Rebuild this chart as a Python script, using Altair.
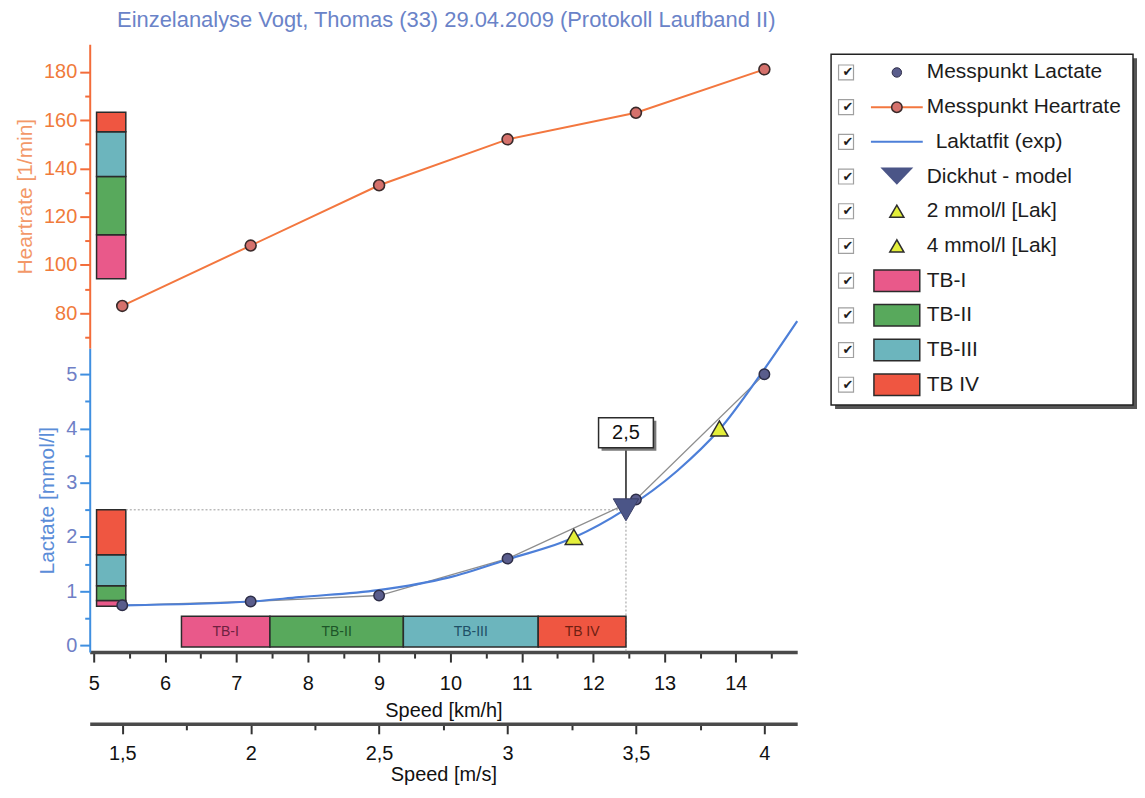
import altair as alt
import pandas as pd

FONT = "Liberation Sans"

# ---------------- data ----------------
speed_kmh = [5.4, 7.2, 9.0, 10.8, 12.6, 14.4]
heartrate = [83, 108, 133, 152, 163, 181]
lactate = [0.74, 0.81, 0.92, 1.60, 2.69, 5.00]

fit_speed = [5.43, 7.21, 7.88, 8.99, 9.97, 10.81, 11.73, 12.44, 13.18, 13.77, 14.37, 14.86]
fit_lactate = [0.74, 0.81, 0.89, 1.02, 1.25, 1.59, 1.99, 2.50, 3.22, 3.98, 5.04, 5.98]

zone_names = ["TB-I", "TB-II", "TB-III", "TB IV"]
zone_fill = ["#e9598a", "#58a95c", "#6cb5bd", "#ef5641"]
zone_textcol = ["#6e2140", "#1d5528", "#1f4f66", "#6e2012"]
zone_speed_bounds = [6.23, 7.47, 9.34, 11.23, 12.46]
zone_hr_bounds = [94.3, 112.5, 136.6, 155.2, 163.2]
zone_lac_bounds = [0.72, 0.83, 1.10, 1.67, 2.50]
zone_strip_speed = [5.04, 5.45]
zone_strip_lactate = [-0.03, 0.54]

dickhut_speed = 12.46
dickhut_lactate = 2.5
dickhut_text = "2,5"
dickhut_box_lactate = 3.92
dickhut_box_bottom = 3.64

threshold_names = ["2 mmol/l [Lak]", "4 mmol/l [Lak]"]
threshold_speed = [11.73, 13.77]
threshold_lactate = [2.0, 4.0]

kmh_ticks = [5, 5.5, 6, 6.5, 7, 7.5, 8, 8.5, 9, 9.5, 10, 10.5, 11, 11.5, 12, 12.5, 13, 13.5, 14, 14.5]
ms_ticks = [1.5, 1.75, 2, 2.25, 2.5, 2.75, 3, 3.25, 3.5, 3.75, 4]
hr_ticks = [70, 80, 90, 100, 110, 120, 130, 140, 150, 160, 170, 180]
lac_ticks = [0, 0.5, 1, 1.5, 2, 2.5, 3, 3.5, 4, 4.5, 5]

legend_labels = ["Messpunkt Lactate", "Messpunkt Heartrate", "Laktatfit (exp)",
                 "Dickhut - model", "2 mmol/l [Lak]", "4 mmol/l [Lak]",
                 "TB-I", "TB-II", "TB-III", "TB IV"]

title_text = "Einzelanalyse Vogt, Thomas (33) 29.04.2009 (Protokoll Laufband II)"

# ---------------- scales / axes ----------------
x_dom = [4.944, 14.86]
hr_dom = [65.5, 191.4]
lac_dom = [-0.123, 5.48]
ms_dom = [x_dom[0] / 3.6, x_dom[1] / 3.6]

PW, PH = 710, 305

HR_AXIS, HR_LABEL, HR_TITLE = "#f36c3a", "#f07b3a", "#f39868"
LAC_AXIS, LAC_LABEL, LAC_TITLE = "#3f8fe0", "#6f7fc6", "#5b8dd8"

xs = alt.Scale(domain=x_dom, nice=False, zero=False)
hrs = alt.Scale(domain=hr_dom, nice=False, zero=False)
lacs = alt.Scale(domain=lac_dom, nice=False, zero=False)

hr_axis = alt.Axis(
    values=hr_ticks, title="Heartrate [1/min]",
    labelExpr="datum.value % 20 === 0 ? toString(datum.value) : ''",
    tickSize={"condition": {"test": "datum.value % 20 === 0", "value": 10}, "value": 5},
    domainColor=HR_AXIS, domainWidth=2, tickColor=HR_AXIS, tickWidth=2,
    labelColor=HR_LABEL, labelFont=FONT, labelFontSize=20, labelPadding=3,
    labelOverlap=False, labelFlush=False, grid=False,
    titleColor=HR_TITLE, titleFont=FONT, titleFontSize=21, titleFontWeight="normal",
    titlePadding=8)

lac_axis = alt.Axis(
    values=lac_ticks, title="Lactate [mmol/l]",
    labelExpr="datum.value % 1 === 0 ? toString(datum.value) : ''",
    tickSize={"condition": {"test": "datum.value % 1 === 0", "value": 10}, "value": 5},
    domainColor=LAC_AXIS, domainWidth=2, tickColor=LAC_AXIS, tickWidth=2,
    labelColor=LAC_LABEL, labelFont=FONT, labelFontSize=20, labelPadding=3,
    labelOverlap=False, labelFlush=False, grid=False,
    titleColor=LAC_TITLE, titleFont=FONT, titleFontSize=21, titleFontWeight="normal",
    titlePadding=8)

kmh_axis = alt.Axis(
    values=kmh_ticks, title="Speed [km/h]", orient="bottom",
    labelExpr="datum.value % 1 === 0 ? toString(datum.value) : ''",
    tickSize={"condition": {"test": "datum.value % 1 === 0", "value": 10}, "value": 6},
    domainColor="#4a4a4a", domainWidth=3.5, tickColor="#333333", tickWidth=2,
    labelColor="#111111", labelFont=FONT, labelFontSize=20, labelPadding=12,
    labelOverlap=False, labelFlush=False, grid=False,
    titleColor="#111111", titleFont=FONT, titleFontSize=20, titleFontWeight="normal",
    titlePadding=7)

ms_axis = alt.Axis(
    values=ms_ticks, title="Speed [m/s]", orient="bottom", offset=72,
    labelExpr="(datum.value * 2) % 1 === 0 ? replace(toString(datum.value), '.', ',') : ''",
    tickSize={"condition": {"test": "(datum.value * 2) % 1 === 0", "value": 10}, "value": 6},
    domainColor="#4a4a4a", domainWidth=3.5, tickColor="#333333", tickWidth=2,
    labelColor="#111111", labelFont=FONT, labelFontSize=20, labelPadding=10,
    labelOverlap=False, labelFlush=False, grid=False,
    titleColor="#111111", titleFont=FONT, titleFontSize=20, titleFontWeight="normal",
    titlePadding=1)

# ---------------- tables ----------------
hr_df = pd.DataFrame({"speed": speed_kmh, "hr": heartrate})
lac_df = pd.DataFrame({"speed": speed_kmh, "lac": lactate})
fit_df = pd.DataFrame({"speed": fit_speed, "lac": fit_lactate})
zone_df = pd.DataFrame({
    "zone": zone_names,
    "fill": zone_fill,
    "tcol": zone_textcol,
    "s0": zone_speed_bounds[:-1], "s1": zone_speed_bounds[1:],
    "hr0": zone_hr_bounds[:-1], "hr1": zone_hr_bounds[1:],
    "l0": zone_lac_bounds[:-1], "l1": zone_lac_bounds[1:],
    "strip0": [zone_strip_speed[0]] * 4, "strip1": [zone_strip_speed[1]] * 4,
    "b0": [zone_strip_lactate[0]] * 4, "b1": [zone_strip_lactate[1]] * 4,
})
thr_df = pd.DataFrame({"name": threshold_names, "speed": threshold_speed, "lac": threshold_lactate})
dk_df = pd.DataFrame({"speed": [dickhut_speed], "lac": [dickhut_lactate], "label": [dickhut_text],
                      "box": [dickhut_box_lactate], "boxb": [dickhut_box_bottom],
                      "left": [zone_strip_speed[1]], "floor": [lac_dom[0]]})

# ---------------- heart-rate panel ----------------
hr_strip = alt.Chart(zone_df).mark_rect(stroke="#2b2b2b", strokeWidth=1.5).encode(
    x=alt.X("strip0:Q", scale=xs, axis=None), x2="strip1:Q",
    y=alt.Y("hr0:Q", scale=hrs, axis=hr_axis), y2="hr1:Q",
    fill=alt.Fill("fill:N", scale=None))

hr_line = alt.Chart(hr_df).mark_line(color="#f3773f", strokeWidth=2).encode(
    x=alt.X("speed:Q", scale=xs, axis=None),
    y=alt.Y("hr:Q", scale=hrs, axis=hr_axis))

hr_pts = alt.Chart(hr_df).mark_circle(size=120, color="#d5716c", stroke="#3a2a2a",
                                      strokeWidth=1.6, opacity=1).encode(
    x=alt.X("speed:Q", scale=xs, axis=None),
    y=alt.Y("hr:Q", scale=hrs, axis=hr_axis))

top = alt.layer(hr_strip, hr_line, hr_pts).properties(width=PW, height=PH)

# ---------------- lactate panel ----------------
X = lambda f: alt.X(f, scale=xs, axis=kmh_axis)
Y = lambda f: alt.Y(f, scale=lacs, axis=lac_axis)

lac_strip = alt.Chart(zone_df).mark_rect(stroke="#2b2b2b", strokeWidth=1.5).encode(
    x=X("strip0:Q"), x2="strip1:Q", y=Y("l0:Q"), y2="l1:Q",
    fill=alt.Fill("fill:N", scale=None))

guide_h = alt.Chart(dk_df).mark_rule(color="#9a9a9a", strokeDash=[2, 2], strokeWidth=1).encode(
    x=X("left:Q"), x2="speed:Q", y=Y("lac:Q"))
guide_v = alt.Chart(dk_df).mark_rule(color="#9a9a9a", strokeDash=[2, 2], strokeWidth=1).encode(
    x=X("speed:Q"), y=Y("lac:Q"), y2="floor:Q")

zone_bar = alt.Chart(zone_df).mark_rect(stroke="#2b2b2b", strokeWidth=1.5).encode(
    x=X("s0:Q"), x2="s1:Q", y=Y("b0:Q"), y2="b1:Q",
    fill=alt.Fill("fill:N", scale=None))

zone_lbl = alt.Chart(zone_df).transform_calculate(
    mx="(datum.s0 + datum.s1) / 2", my="(datum.b0 + datum.b1) / 2"
).mark_text(font=FONT, fontSize=14, baseline="middle", align="center").encode(
    x=X("mx:Q"), y=Y("my:Q"), text="zone:N", color=alt.Color("tcol:N", scale=None))

meas_line = alt.Chart(lac_df).mark_line(color="#8e8e8e", strokeWidth=1.3).encode(
    x=X("speed:Q"), y=Y("lac:Q"))
fit_line = alt.Chart(fit_df).mark_line(color="#4d7fd8", strokeWidth=2.2, interpolate="monotone").encode(
    x=X("speed:Q"), y=Y("lac:Q"))
lac_pts = alt.Chart(lac_df).mark_circle(size=110, color="#5a5d8c", stroke="#2e2e48",
                                        strokeWidth=1.5, opacity=1).encode(
    x=X("speed:Q"), y=Y("lac:Q"))
thr_pts = alt.Chart(thr_df).mark_point(shape="triangle-up", filled=True, size=300, fill="#e4ef3a",
                                       stroke="#2d2d2d", strokeWidth=1.5, opacity=1).encode(
    x=X("speed:Q"), y=Y("lac:Q"))
connector = alt.Chart(dk_df).mark_rule(color="#2b2b2b", strokeWidth=1.6).encode(
    x=X("speed:Q"), y=Y("boxb:Q"), y2="lac:Q")
dk_pt = alt.Chart(dk_df).mark_point(shape="triangle-down", filled=True, size=650, fill="#4b5587",
                                    stroke="#3a3f66", strokeWidth=1, opacity=1).encode(
    x=X("speed:Q"), y=Y("lac:Q"))
BOX = "M-1,-0.545L1,-0.545L1,0.545L-1,0.545Z"
box_shadow = alt.Chart(dk_df).mark_point(shape=BOX, size=3025, filled=True, fill="#7a7a7a",
                                         xOffset=3, yOffset=3, opacity=1).encode(
    x=X("speed:Q"), y=Y("box:Q"))
box = alt.Chart(dk_df).mark_point(shape=BOX, size=3025, filled=True, fill="white",
                                  stroke="#2b2b2b", strokeWidth=1.5, opacity=1).encode(
    x=X("speed:Q"), y=Y("box:Q"))
box_txt = alt.Chart(dk_df).mark_text(font=FONT, fontSize=20, color="#111111",
                                     baseline="middle").encode(
    x=X("speed:Q"), y=Y("box:Q"), text="label:N")

bottom_main = alt.layer(lac_strip, guide_h, guide_v, zone_bar, zone_lbl, meas_line, fit_line,
                        lac_pts, thr_pts, connector, dk_pt, box_shadow, box, box_txt)

ms_layer = alt.Chart(pd.DataFrame({"ms": ms_ticks})).mark_point(opacity=0).encode(
    x=alt.X("ms:Q", scale=alt.Scale(domain=ms_dom, nice=False, zero=False), axis=ms_axis))

bottom = alt.layer(bottom_main, ms_layer).resolve_scale(x="independent").properties(
    width=PW, height=PH)

main = alt.vconcat(top, bottom, spacing=0, bounds="flush")

# ---------------- legend panel ----------------
LW, LH = 308, 366
leg_df = pd.DataFrame({"label": legend_labels, "row": list(range(len(legend_labels)))})
LDOM = [-0.813, 9.698]
ly = alt.Y("row:Q", scale=alt.Scale(domain=LDOM, reverse=True, nice=False, zero=False), axis=None)
one = pd.DataFrame({"a": [0]})

def sub(rows):
    return alt.Chart(leg_df).transform_filter(alt.FieldOneOfPredicate(field="row", oneOf=rows))

leg_shadow = alt.Chart(one).mark_rect(fill="#555555").encode(
    x=alt.value(5), x2=alt.value(LW), y=alt.value(14), y2=alt.value(LH))
leg_box = alt.Chart(one).mark_rect(fill="white", stroke="#222222", strokeWidth=1.5).encode(
    x=alt.value(1), x2=alt.value(LW - 4), y=alt.value(10), y2=alt.value(LH - 4))
leg_check_box = alt.Chart(leg_df).mark_point(shape="square", size=225, stroke="#a0a0a0",
                                             strokeWidth=1.2, filled=False, opacity=1).encode(
    x=alt.value(16), y=ly)
leg_check = alt.Chart(leg_df).mark_text(text="\u2714", font="DejaVu Sans", fontSize=13,
                                        color="#1e1e1e", baseline="middle").encode(
    x=alt.value(18), y=ly)
leg_text = sub([0, 1, 3, 4, 5, 6, 7, 8, 9]).mark_text(
    font=FONT, fontSize=21, color="#1c1c1c", align="left", baseline="middle").encode(
    x=alt.value(97), y=ly, text="label:N")
leg_text_fit = sub([2]).mark_text(
    font=FONT, fontSize=21, color="#1c1c1c", align="left", baseline="middle").encode(
    x=alt.value(106), y=ly, text="label:N")
leg_lac = sub([0]).mark_circle(size=90, color="#5a5d8c", stroke="#2e2e48", strokeWidth=1,
                               opacity=1).encode(x=alt.value(67), y=ly)
leg_hr_line = sub([1]).mark_rule(color="#f3773f", strokeWidth=2).encode(
    x=alt.value(41), x2=alt.value(93), y=ly)
leg_hr_pt = sub([1]).mark_circle(size=110, color="#d5716c", stroke="#3a2a2a", strokeWidth=1.5,
                                 opacity=1).encode(x=alt.value(67), y=ly)
leg_fit = sub([2]).mark_rule(color="#4d7fd8", strokeWidth=2).encode(
    x=alt.value(41), x2=alt.value(93), y=ly)
leg_dk = sub([3]).mark_point(shape="M-1,-0.55L1,-0.55L0,0.5Z", size=1089, filled=True,
                             fill="#4b5587", opacity=1).encode(x=alt.value(67), y=ly)
leg_thr = sub([4, 5]).mark_point(shape="triangle-up", size=200, filled=True, fill="#e4ef3a",
                                 stroke="#2d2d2d", strokeWidth=1.5, opacity=1).encode(
    x=alt.value(67), y=ly)
zleg = leg_df[leg_df["row"] >= 6].copy()
zleg["fill"] = zone_fill
zleg["r0"] = zleg["row"] - 0.31
zleg["r1"] = zleg["row"] + 0.31
leg_zone = alt.Chart(zleg).mark_rect(stroke="#2b2b2b", strokeWidth=1.5).encode(
    x=alt.value(44), x2=alt.value(90),
    y=alt.Y("r0:Q", scale=alt.Scale(domain=LDOM, reverse=True, nice=False, zero=False), axis=None),
    y2="r1:Q", fill=alt.Fill("fill:N", scale=None))

legend = alt.layer(leg_shadow, leg_box, leg_check_box, leg_check, leg_text, leg_text_fit, leg_lac,
                   leg_hr_line, leg_hr_pt, leg_fit, leg_dk, leg_thr, leg_zone).properties(
    width=LW, height=LH)

chart = alt.hconcat(main, legend, spacing=28).properties(
    title=alt.TitleParams(text=title_text, font=FONT, fontSize=22, fontWeight="normal",
                          color="#6a83c8", anchor="middle", dx=-130, offset=12),
    padding={"left": 6, "top": 0, "right": 0, "bottom": 0},
).configure_view(strokeWidth=0)

chart.save("out.html", embed_options={"renderer": "svg", "actions": False})
